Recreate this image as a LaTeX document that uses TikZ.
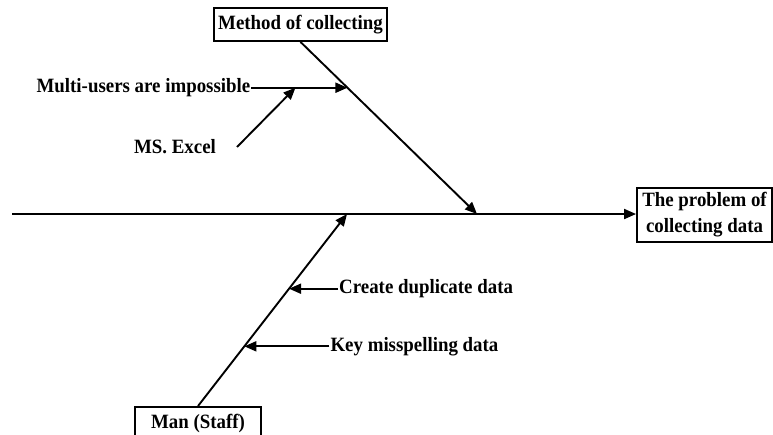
\documentclass[tikz,border=0pt]{standalone}
\usepackage{fontspec}
\setmainfont{Liberation Serif}[FakeStretch=0.93]
\usetikzlibrary{arrows.meta,calc}

\tikzset{
  arrowline/.style={line width=1.9pt, -{Triangle[length=12pt,width=10pt]}},
  headbox/.style={draw, line width=1.9pt, font=\fontsize{20.3}{26}\selectfont\bfseries,
    inner sep=0pt, align=center},
  cause/.style={font=\fontsize{20.3}{24}\selectfont\bfseries, inner sep=1pt}
}

\begin{document}
\begin{tikzpicture}[x=1pt,y=-1pt]
  \useasboundingbox (0,0) rectangle (773,434);

  % category and effect boxes
  \node[headbox, minimum width=173pt, minimum height=33pt] (method) at (300.5,24.5) {Method of collecting};
  \node[headbox, minimum width=135pt, minimum height=54pt] (effect) at (704.5,215) {The problem of\\collecting data};
  \node[headbox, minimum width=126pt, minimum height=33pt] (man) at (198,423.5) {Man (Staff)};

  % main spine
  \coordinate (tail) at (12,214);
  \draw[arrowline] (tail) -- (effect.west |- tail);

  % junctions of the bones with the spine
  \coordinate (jm) at (477,214);
  \coordinate (jl) at (347,214);

  % upper bone: method of collecting
  \draw[arrowline] (method.south) -- (jm);
  \coordinate (u1) at ($(method.south)!0.266!(jm)$);
  \node[cause, anchor=east] (multi) at ([xshift=-96pt]u1) {Multi-users are impossible};
  \draw[arrowline] (multi.east) -- (u1);
  \coordinate (m1) at ([xshift=-52pt]u1);
  \node[cause] (excel) at (175,147) {MS. Excel};
  \coordinate (e0) at (237,147);
  \draw[arrowline] (e0) -- (m1);

  % lower bone: man (staff)
  \draw[arrowline] (man.north) -- (jl);
  \coordinate (b1) at ($(man.north)!0.611!(jl)$);
  \coordinate (b2) at ($(man.north)!0.311!(jl)$);
  \node[cause, anchor=west] (dup) at ([xshift=49pt]b1) {Create duplicate data};
  \node[cause, anchor=west] (key) at ([xshift=85pt]b2) {Key misspelling data};
  \draw[arrowline] (dup.west) -- (b1);
  \draw[arrowline] (key.west) -- (b2);
\end{tikzpicture}
\end{document}
